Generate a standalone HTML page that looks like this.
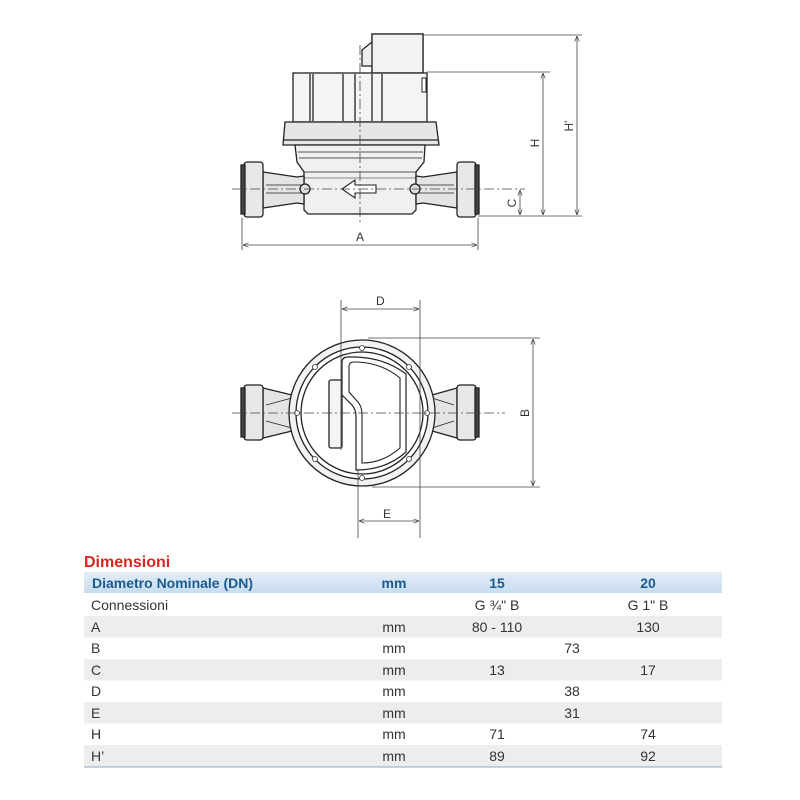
<!DOCTYPE html>
<html><head><meta charset="utf-8"><style>
html,body{margin:0;padding:0;background:#fff;width:800px;height:800px;overflow:hidden}
svg{position:absolute;left:0;top:0}
</style></head><body>
<svg width="800" height="800" viewBox="0 0 800 800" font-family="Liberation Sans, sans-serif">
<defs>
<linearGradient id="hb" x1="0" y1="0" x2="0" y2="1"><stop offset="0" stop-color="#e3eef7"/><stop offset="1" stop-color="#c7dcee"/></linearGradient>
<marker id="ar" viewBox="0 0 10 10" refX="10" refY="5" markerWidth="7" markerHeight="7" orient="auto-start-reverse"><path d="M0,1 L10,5 L0,9" fill="none" stroke="#333" stroke-width="1.2"/></marker>
</defs>
<!-- TOP VIEW -->
<g stroke="#222" stroke-width="1.3" fill="#fff">
  <path d="M362,50 L372,42 L372,34 L423,34 L423,73 L372,73 L372,66 L362,66 Z" fill="#eee"/>
  <rect x="372" y="34" width="51" height="39" fill="#f2f2f2"/>
  <rect x="293" y="73" width="134" height="49" fill="#f4f4f4"/>
  <line x1="310" y1="74" x2="310" y2="121"/><line x1="313" y1="74" x2="313" y2="121"/>
  <line x1="343" y1="74" x2="343" y2="121"/><line x1="355" y1="74" x2="355" y2="121"/>
  <line x1="372" y1="74" x2="372" y2="121"/><line x1="382" y1="74" x2="382" y2="121"/>
  <rect x="422" y="78" width="4" height="14" fill="#fff" stroke-width="1"/>
  <path d="M285,122 L436,122 L439,145 L283,145 Z" fill="#e6e6e6"/>
  <line x1="283" y1="140" x2="439" y2="140"/>
  <path d="M295,145 L425,145 L424,162 L416,172 L416,210 L412,214 L308,214 L304,210 L304,172 L297,162 Z" fill="#f0f0f0"/>
  <line x1="298" y1="152" x2="423" y2="152" stroke-width="0.7"/>
  <line x1="299" y1="158" x2="422" y2="158" stroke-width="0.7"/>
  <line x1="304" y1="172" x2="416" y2="172" stroke-width="0.8"/>
  <line x1="304" y1="178" x2="416" y2="178" stroke-width="0.6"/>
  <path d="M263,172 L297,177 L304,176 L304,204 L297,203 L263,208 Z" fill="#e4e4e4"/>
  <path d="M457,172 L423,177 L416,176 L416,204 L423,203 L457,208 Z" fill="#e4e4e4"/>
  <line x1="266" y1="185" x2="302" y2="185" stroke-width="0.8"/><line x1="266" y1="193" x2="302" y2="193" stroke-width="0.8"/>
  <line x1="418" y1="185" x2="454" y2="185" stroke-width="0.8"/><line x1="418" y1="193" x2="454" y2="193" stroke-width="0.8"/>
  <circle cx="305" cy="189" r="5" fill="#ddd"/><circle cx="415" cy="189" r="5" fill="#ddd"/>
  <rect x="244" y="162" width="19" height="55" rx="3" fill="#e8e8e8"/>
  <rect x="241" y="165" width="4" height="49" fill="#444"/>
  <rect x="457" y="162" width="19" height="55" rx="3" fill="#e8e8e8"/>
  <rect x="475" y="165" width="4" height="49" fill="#444"/>
  <path d="M342,189 L355,180 L355,185 L376,185 L376,193 L355,193 L355,198 Z" fill="#fff" stroke-width="1.1"/>
</g>
<g stroke="#444" stroke-width="0.8" fill="none">
  <line x1="232" y1="189" x2="525" y2="189" stroke-dasharray="10,3,2,3"/>
  <line x1="360" y1="45" x2="360" y2="222" stroke-dasharray="10,3,2,3"/>
  <line x1="423" y1="35" x2="582" y2="35"/>
  <line x1="427" y1="72" x2="550" y2="72"/>
  <line x1="478" y1="216" x2="582" y2="216"/>
  <line x1="242" y1="218" x2="242" y2="250"/><line x1="478" y1="218" x2="478" y2="250"/>
  <line x1="243" y1="245" x2="477" y2="245" marker-start="url(#ar)" marker-end="url(#ar)"/>
  <line x1="520" y1="190" x2="520" y2="215" marker-start="url(#ar)" marker-end="url(#ar)"/>
  <line x1="543" y1="73" x2="543" y2="215" marker-start="url(#ar)" marker-end="url(#ar)"/>
  <line x1="577" y1="36" x2="577" y2="215" marker-start="url(#ar)" marker-end="url(#ar)"/>
</g>
<g font-size="12" fill="#333">
  <text x="356" y="241">A</text>
  <text transform="translate(516,203) rotate(-90)" text-anchor="middle">C</text>
  <text transform="translate(539,143) rotate(-90)" text-anchor="middle">H</text>
  <text transform="translate(573,126) rotate(-90)" text-anchor="middle">H'</text>
</g>
<!-- BOTTOM VIEW -->
<g stroke="#222" stroke-width="1.3" fill="#fff">
  <path d="M263,388 L292,395 L292,431 L263,438 Z" fill="#e4e4e4"/>
  <path d="M457,388 L432,395 L432,431 L457,438 Z" fill="#e4e4e4"/>
  <line x1="266" y1="405" x2="292" y2="398" stroke-width="0.7"/><line x1="266" y1="421" x2="292" y2="428" stroke-width="0.7"/>
  <line x1="454" y1="405" x2="432" y2="398" stroke-width="0.7"/><line x1="454" y1="421" x2="432" y2="428" stroke-width="0.7"/>
  <rect x="244" y="385" width="19" height="55" rx="3" fill="#e8e8e8"/>
  <rect x="241" y="388" width="4" height="49" fill="#444"/>
  <rect x="457" y="385" width="19" height="55" rx="3" fill="#e8e8e8"/>
  <rect x="475" y="388" width="4" height="49" fill="#444"/>
  <circle cx="362" cy="413" r="73" fill="#f2f2f2"/>
  <circle cx="362" cy="413" r="66" fill="#fff"/>
  <circle cx="362" cy="413" r="61" fill="#fff"/>
  <rect x="329" y="380" width="13" height="68" rx="2" fill="#f4f4f4"/>
  <path d="M342,395 L342,362 Q342,357 348,357 L356,357 Q385,358 406,374 L406,452 Q386,470 356,470 L356,416 Q356,410 352,405 L345,398 Z" fill="#fff" stroke-width="1.2"/>
  <path d="M349,392 L349,366 Q349,362 354,362 L357,362 Q382,363 400,378 L400,448 Q383,463 362,463 L362,414 Q362,406 357,401 Z" fill="#fff" stroke-width="1.1"/>
</g>
<g fill="#fff" stroke="#333" stroke-width="0.8">
  <circle cx="362" cy="348" r="2.5"/><circle cx="362" cy="478" r="2.5"/>
  <circle cx="297" cy="413" r="2.5"/><circle cx="427" cy="413" r="2.5"/>
  <circle cx="315" cy="367" r="2.5"/><circle cx="409" cy="367" r="2.5"/>
  <circle cx="315" cy="459" r="2.5"/><circle cx="409" cy="459" r="2.5"/>
</g>
<g stroke="#444" stroke-width="0.8" fill="none">
  <line x1="232" y1="413" x2="505" y2="413" stroke-dasharray="10,3,2,3"/>
  <line x1="341" y1="300" x2="341" y2="450"/>
  <line x1="420" y1="300" x2="420" y2="538"/>
  <line x1="358" y1="470" x2="358" y2="538"/>
  <line x1="342" y1="309" x2="419" y2="309" marker-start="url(#ar)" marker-end="url(#ar)"/>
  <line x1="359" y1="521" x2="419" y2="521" marker-start="url(#ar)" marker-end="url(#ar)"/>
  <line x1="368" y1="338" x2="540" y2="338"/>
  <line x1="372" y1="487" x2="540" y2="487"/>
  <line x1="533" y1="339" x2="533" y2="486" marker-start="url(#ar)" marker-end="url(#ar)"/>
</g>
<g font-size="12" fill="#333">
  <text x="376" y="305">D</text>
  <text x="383" y="518">E</text>
  <text transform="translate(529,413) rotate(-90)" text-anchor="middle">B</text>
</g>
<!-- TABLE -->
<text x="84" y="567" font-size="16" font-weight="bold" fill="#d8261f">Dimensioni</text>
<rect x="84" y="572" width="638" height="21" fill="url(#hb)"/>
<g fill="#ededed">
  <rect x="84" y="616" width="638" height="21.5"/>
  <rect x="84" y="659" width="638" height="21.5"/>
  <rect x="84" y="702" width="638" height="21.5"/>
  <rect x="84" y="745" width="638" height="21.5"/>
</g>
<line x1="84" y1="767" x2="722" y2="767" stroke="#8aa8c0" stroke-width="1"/>
<g font-size="14" font-weight="bold" fill="#1c5a8e">
  <text x="92" y="588">Diametro Nominale (DN)</text>
  <text x="394" y="588" text-anchor="middle">mm</text>
  <text x="497" y="588" text-anchor="middle">15</text>
  <text x="648" y="588" text-anchor="middle">20</text>
</g>
<g font-size="14" fill="#333">
  <text x="91" y="610">Connessioni</text>
  <text x="497" y="610" text-anchor="middle">G ¾" B</text>
  <text x="648" y="610" text-anchor="middle">G 1" B</text>
  <text x="91" y="632">A</text><text x="394" y="632" text-anchor="middle">mm</text>
  <text x="497" y="632" text-anchor="middle">80 - 110</text><text x="648" y="632" text-anchor="middle">130</text>
  <text x="91" y="653">B</text><text x="394" y="653" text-anchor="middle">mm</text>
  <text x="572" y="653" text-anchor="middle">73</text>
  <text x="91" y="675">C</text><text x="394" y="675" text-anchor="middle">mm</text>
  <text x="497" y="675" text-anchor="middle">13</text><text x="648" y="675" text-anchor="middle">17</text>
  <text x="91" y="696">D</text><text x="394" y="696" text-anchor="middle">mm</text>
  <text x="572" y="696" text-anchor="middle">38</text>
  <text x="91" y="718">E</text><text x="394" y="718" text-anchor="middle">mm</text>
  <text x="572" y="718" text-anchor="middle">31</text>
  <text x="91" y="739">H</text><text x="394" y="739" text-anchor="middle">mm</text>
  <text x="497" y="739" text-anchor="middle">71</text><text x="648" y="739" text-anchor="middle">74</text>
  <text x="91" y="761">H’</text><text x="394" y="761" text-anchor="middle">mm</text>
  <text x="497" y="761" text-anchor="middle">89</text><text x="648" y="761" text-anchor="middle">92</text>
</g>
</svg>
</body></html>
